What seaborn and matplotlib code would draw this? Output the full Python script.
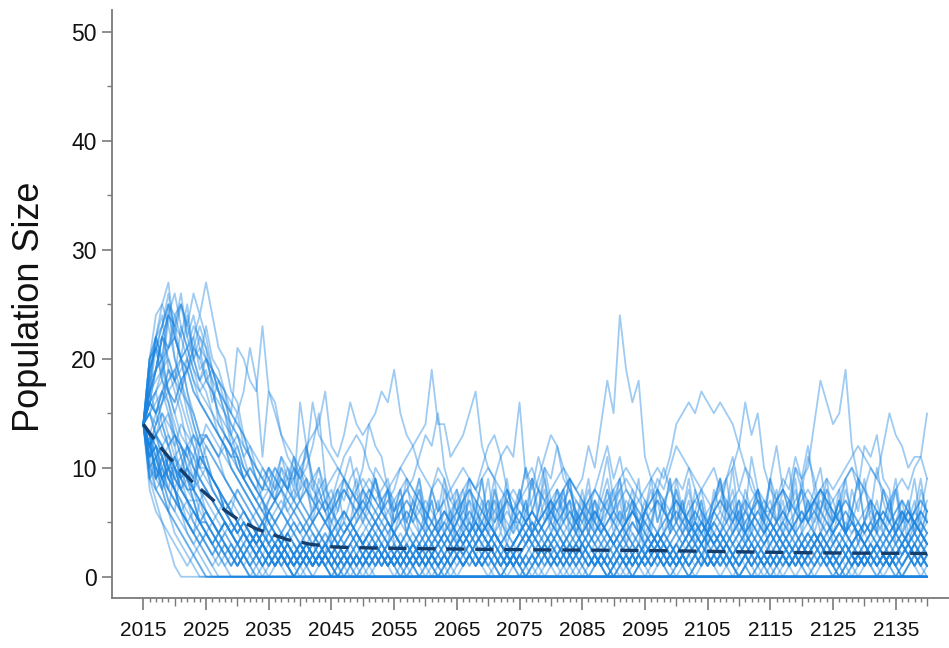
import numpy as np
import pandas as pd
import matplotlib
matplotlib.use("Agg")
import matplotlib.pyplot as plt
from matplotlib.ticker import FixedLocator
import seaborn as sns

# Simulation years
years = list(range(2015, 2141))

# Simulated population trajectories, one base-36 digit per year
# (0-9, a=10 ... r=27), grouped in decades 2015-2024, 2025-2034, ...
runs = [
    # runs that go extinct
    "e975310000 0000000000 0000000000 0000000000 "
    "0000000000 0000000000 0000000000 0000000000 "
    "0000000000 0000000000 0000000000 0000000000 000000",
    "ec98654321 0000000000 0000000000 0000000000 "
    "0000000000 0000000000 0000000000 0000000000 "
    "0000000000 0000000000 0000000000 0000000000 000000",
    "efdb986543 2121000000 0000000000 0000000000 "
    "0000000000 0000000000 0000000000 0000000000 "
    "0000000000 0000000000 0000000000 0000000000 000000",
    "eab9a8a975 5432321000 0000000000 0000000000 "
    "0000000000 0000000000 0000000000 0000000000 "
    "0000000000 0000000000 0000000000 0000000000 000000",
    "edcba87654 3232121000 0000000000 0000000000 "
    "0000000000 0000000000 0000000000 0000000000 "
    "0000000000 0000000000 0000000000 0000000000 000000",
    "e9b8a98977 6545434321 2121000000 0000000000 "
    "0000000000 0000000000 0000000000 0000000000 "
    "0000000000 0000000000 0000000000 0000000000 000000",
    "eca9876543 4323212100 0000000000 0000000000 "
    "0000000000 0000000000 0000000000 0000000000 "
    "0000000000 0000000000 0000000000 0000000000 000000",
    "egheca9775 4343232121 2321210000 0000000000 "
    "0000000000 0000000000 0000000000 0000000000 "
    "0000000000 0000000000 0000000000 0000000000 000000",
    "ebca986547 5432121232 1210000000 0000000000 "
    "0000000000 0000000000 0000000000 0000000000 "
    "0000000000 0000000000 0000000000 0000000000 000000",
    "ekmojhfca8 6545434323 2321232121 0000000000 "
    "0000000000 0000000000 0000000000 0000000000 "
    "0000000000 0000000000 0000000000 0000000000 000000",
    "e865432121 0000000000 0000000000 0000000000 "
    "0000000000 0000000000 0000000000 0000000000 "
    "0000000000 0000000000 0000000000 0000000000 000000",
    "edfhgdb986 5434323212 1232121232 1212121000 "
    "0000000000 0000000000 0000000000 0000000000 "
    "0000000000 0000000000 0000000000 0000000000 000000",
    "ejlnqmkhfd b986545434 3232121000 0000000000 "
    "0000000000 0000000000 0000000000 0000000000 "
    "0000000000 0000000000 0000000000 0000000000 000000",
    "ecdefc9875 6545434543 2343232121 2321212323 "
    "2121000000 0000000000 0000000000 0000000000 "
    "0000000000 0000000000 0000000000 0000000000 000000",
    "efghfdcba9 8765454323 2121232121 0000000000 "
    "0000000000 0000000000 0000000000 0000000000 "
    "0000000000 0000000000 0000000000 0000000000 000000",
    "ehjklmkjhg fedcba9876 5434323212 1232121212 "
    "1210000000 0000000000 0000000000 0000000000 "
    "0000000000 0000000000 0000000000 0000000000 000000",
    "ed9a876543 2100000000 0000000000 0000000000 "
    "0000000000 0000000000 0000000000 0000000000 "
    "0000000000 0000000000 0000000000 0000000000 000000",
    "ejmpnkifdb a987654323 2121000000 0000000000 "
    "0000000000 0000000000 0000000000 0000000000 "
    "0000000000 0000000000 0000000000 0000000000 000000",
    "ebc9a86432 1000000000 0000000000 0000000000 "
    "0000000000 0000000000 0000000000 0000000000 "
    "0000000000 0000000000 0000000000 0000000000 000000",
    "ecdcbabca9 8765432343 2323212321 2123212321 "
    "0121232121 2321210000 0000000000 0000000000 "
    "0000000000 0000000000 0000000000 0000000000 000000",
    "eabcdbcaba a986765434 3432121232 1000000000 "
    "0000000000 0000000000 0000000000 0000000000 "
    "0000000000 0000000000 0000000000 0000000000 000000",
    "eca8643210 0000000000 0000000000 0000000000 "
    "0000000000 0000000000 0000000000 0000000000 "
    "0000000000 0000000000 0000000000 0000000000 000000",
    # runs persisting at low numbers
    "edb9765434 3232123432 1232121234 3212323432 "
    "1212343212 3234321212 3432123454 3212123432 "
    "1232123432 1212343234 5432121232 3432123212 323432",
    "efhigeca87 6545432343 2121232123 4345432123 "
    "2101232121 2343454321 2123212343 2121012123 "
    "2343212321 2123454323 2121232343 2101212321 234321",
    "eca9ba9887 8765454343 4565432123 2123434543 "
    "4323212343 4565434323 4679bdca86 4345434323 "
    "2121234565 4343212123 4343212345 4323432123 432123",
    "ea87654323 4321212321 0121232123 2121012121 "
    "2321012321 2123212101 2123232121 0121232101 "
    "2123212123 2101212321 2123210121 2321232121 012321",
    "ebcab98a9b a987656545 79ba8gc986 4565678765 "
    "4323212343 2123454321 2343232123 4565434321 "
    "2121232343 4543234565 6543432123 2343212343 456543",
    "edbcabacdc dcbdca9876 5434323212 3212101232 "
    "1212321212 3454321232 1010121232 3212123212 "
    "1232123454 3212101212 3232123432 1232121012 123212",
    "ecb9876545 4343212321 2343212121 0121232343 "
    "4323212123 2121232123 4343212101 2123432121 "
    "2321012123 2343212321 2101232343 2121012121 232121",
    "egfdcdb987 6567654343 2123454323 2123212343 "
    "2101234345 4321232121 2343454323 2121232121 "
    "0121234343 2123212321 2343212123 4543212321 232343",
    "ehmnpkigec a986545434 6798b9acf9 3454321212 "
    "3432123432 1212321232 3454565434 3212123212 "
    "3432123454 3434323212 1232343432 1232123454 543232",
    "edcb986754 3212321010 1212321012 1010121232 "
    "1012121010 1232101012 1012321010 1212101232 "
    "1012101012 1232101010 1212321012 1010121232 101210",
    "e9a8b9a889 8765456545 6787654565 4345434323 "
    "6789bdcfa8 6545434323 4565654345 6545434565 "
    "4343456543 4565434323 4565456787 6545434565 434565",
    "ebdcaa8765 4543232123 2121012123 2321212321 "
    "2123210121 2343212321 0121232123 2123212101 "
    "2321232123 4321232121 0121232321 2123212321 212321",
    "ekliomkhec dcbca98765 4323212123 4345434321 "
    "2121234323 4345432123 4343212343 2121012123 "
    "2343454321 2123212343 4565434321 2123432123 234343",
    "eddca98765 5434323212 3432123212 1012123212 "
    "1232121012 3232123432 1212321232 1012321212 "
    "3434321232 1232101232 1212343212 3232121012 123432",
    "ecdbca9a8b a876545434 5676545434 3234565434 "
    "5654323454 3434565676 5434343212 3454565434 "
    "5432343454 5676545434 5434565434 579a8cbd98 343454",
    "e9876a8765 4343212121 2321012121 0101212321 "
    "2121012101 2121232121 0121210121 2321210101 "
    "2121232123 2121012121 2321210121 0121212101 212121",
    "efdecdcbdc edcba98765 3212123432 1232345432 "
    "1232121012 3234543212 1212321232 3432121012 "
    "3234321232 1212101232 3432123212 3432121232 123212",
    "ebc9ab9cbd dcb9876545 4323212343 4565434321 "
    "2123432123 2121234343 2321232345 4321212321 "
    "2343212101 4679b8a975 2121012321 2343454321 232123",
    "ecdfedcb98 7654543432 1232123212 1012121232 "
    "3212101232 3432121012 1232123212 3212101212 "
    "3232121232 3432121012 1232123432 1212321212 101232",
    "eijmoqnljh gfedcba987 5434323212 3454323212 "
    "1232343454 3212123212 1012321232 3212343212 "
    "1232121012 3212343432 1212321232 1012123212 343212",
    "egfhjigeca 9876787654 6545434565 4323456543 "
    "2343454343 5798acdb86 4565434321 2343456543 "
    "4323212343 4543234565 4321234323 4565434321 234543",
    "ea9b987565 4323212101 2321012121 2321210121 "
    "2321232121 0121232321 2101212321 2321012123 "
    "2121012121 2321212101 2123212121 0121232123 212101",
    "ed9a8b9a9c a987687654 3434543212 3434323454 "
    "3212343234 5432123212 3454343212 1232343454 "
    "3434323212 1232123454 5798b9c8a6 3434543234 543234",
    "efeghfdcb9 a876545434 3212101232 1212343212 "
    "1012123212 3432121012 1232343212 1012101232 "
    "1212321012 1232123432 1012121232 1012123212 101212",
    "eklnpomkig fedcbca987 5434545432 579b8aecb8 "
    "3234321232 3454543212 3432345654 3434323454 "
    "3212343454 5434323212 3454323432 1232345434 323454",
    "ed9b9a8765 6545434323 2123212343 2101232121 "
    "2343212321 2123454321 2121012123 468ac9b875 "
    "2123212343 4321232121 2321232343 2101212321 232343",
    "eb8976a98b b987654343 4565434343 2123434565 "
    "4343212343 4565434321 2343454565 4343212343 "
    "6798acba86 2123456543 4343212343 4565432343 456543",
    "ecefdcedca cba9876545 4343232123 2321012123 "
    "4323212101 2123432123 4568a9c986 2321012121 "
    "2343212321 2123232121 0121234343 2321232121 012321",
    # runs with larger fluctuations
    "ehjmlopnqo rolkhgdb97 8765676545 6787654567 "
    "8a98765434 5676545678 7654567898 9caeifojgi "
    "b98a876545 4345676545 4323456787 6545434565 434565",
    "ejlmonpmki hfdca98767 6545676545 4565434567 "
    "6787654565 4343456787 6545676545 6787654567 "
    "89a9befgfh gfgfeca876 5456787654 5676545434 565676",
    "eimkhgijkl ihfedb9876 7898765676 5434567654 "
    "5676545678 9a98767654 5434565676 5434565434 "
    "5676545678 7654567656 6787a9aeig efjc98a987 898ab9",
    "eimkpnqmol kjhfdca987 6567878765 6545676545 "
    "4565434565 6787654345 6545676787 6545434565 "
    "6787654565 4345654567 6787656789 89abcba9cf dcabbf",
    "ehijlmkjhg fedcbb9a98 a98a9bcdeh cbdgedefhg "
    "jfdca98987 6545676545 4565434565 6787654565 "
    "4345676545 6787654343 4565678765 4543456545 676545",
    "ejlihfhjln lhfdca9878 9a98765676 7898765678 "
    "9abcdejeeb cdfhca9876 7898789a98 7654567876 "
    "5434565676 5434345654 3454565434 5676545654 345654",
    "egfhijklnm kiedcb9a98 87899abgdc ba98789876 "
    "7898765456 78989a9bcb g9a8767898 7654345676 "
    "5434565434 3454565676 5434345654 3454567654 565434",
    "eghjkijkih ijhgflkihn hgdba98767 6545676545 "
    "4323454565 4345434565 6545434323 4565678987 "
    "6545676545 4343456787 6545434565 4323454343 456543",
    "egjkhiklji kjihgfhlib hfdcba9878 9a98767656 "
    "5676545434 5654343212 3454565434 5676789a98 "
    "7676545434 5676787654 5434565676 789a987654 565676",
    "ecegijhgfd cba9876565 6787654565 6787898765 "
    "4565676545 6787654343 4565678765 4565434565 "
    "6787898a98 9a89acgdfa 8767656787 6545434565 676565",
    "ehfgjihkmo mjhfcdb98a 9768a79586 7465857968 "
    "5746958674 6857469586 7a68574695 8574685769 "
    "4586957486 5796a58674 6857496857 4695786a75 846957",
    "ehlkonmpki jgihdfcba9 a8b97a8967 6857687a98 "
    "7546857486 5746958574 8695746857 6475869574 "
    "6857496857 4695746b86 7586947586 5748695746 857469",
    "egjmlnkokm ljigfedcba 98a9b8c9a8 79bcdca975 "
    "4695748695 7486957486 5746958674 6958b79685 "
    "7486957468 5796857486 9574685769 5846957486 574695",
    "ekmjhgijlk nkjhfedb98 a986789789 6879a87968 "
    "5746857465 8574695746 8596a75846 5746857465 "
    "3546574635 4657463546 5746857468 5746354657 463546",
    "ekoprmpnlk ihgfedbca9 87a8978697 5687968789 "
    "6857465746 3546574635 5746857695 7465746354 "
    "6574685746 3546574685 9c8a685746 5746354657 465746",
    "ehjmkinlmj kihgedcba9 8a98a9c8a7 8697586978 "
    "6857968a97 8695748695 7a8b968574 6857968574 "
    "6957486957 4869574685 9786a8b968 7586957486 957486",
]

# Mean population size across runs
mean_size = [
    14.0, 13.2, 12.4, 11.7, 11.0, 10.4, 9.8, 9.2, 8.6, 8.1,
    7.6, 7.1, 6.6, 6.1, 5.7, 5.3, 5.0, 4.7, 4.4, 4.2,
    4.0, 3.8, 3.6, 3.4, 3.3, 3.2, 3.05, 2.95, 2.9, 2.8,
    2.75, 2.72, 2.70, 2.68, 2.67, 2.66, 2.64, 2.63, 2.62, 2.62,
    2.61, 2.60, 2.60, 2.59, 2.58, 2.57, 2.57, 2.56, 2.55, 2.55,
    2.54, 2.54, 2.53, 2.52, 2.52, 2.51, 2.51, 2.50, 2.50, 2.49,
    2.49, 2.48, 2.48, 2.47, 2.47, 2.46, 2.46, 2.46, 2.45, 2.45,
    2.45, 2.44, 2.44, 2.44, 2.43, 2.43, 2.43, 2.42, 2.42, 2.41,
    2.41, 2.40, 2.40, 2.39, 2.38, 2.37, 2.37, 2.36, 2.35, 2.35,
    2.34, 2.33, 2.32, 2.31, 2.30, 2.29, 2.28, 2.27, 2.26, 2.25,
    2.25, 2.24, 2.23, 2.22, 2.22, 2.21, 2.20, 2.20, 2.19, 2.19,
    2.18, 2.18, 2.17, 2.17, 2.16, 2.16, 2.16, 2.15, 2.15, 2.15,
    2.15, 2.14, 2.14, 2.14, 2.13, 2.13,
]

x_ticks = list(range(2015, 2136, 10))
y_ticks = [0, 10, 20, 30, 40, 50]


def decode(run):
    return [int(c, 36) for c in run.replace(" ", "")]


records = []
for i, run in enumerate(runs):
    vals = decode(run)
    assert len(vals) == len(years), (i, len(vals))
    records += [(i, y, v) for y, v in zip(years, vals)]
runs_df = pd.DataFrame(records, columns=["run", "year", "size"])
mean_df = pd.DataFrame({"year": years, "size": mean_size})

sns.set_theme(style="ticks")
plt.rcParams["font.family"] = ["Liberation Sans", "DejaVu Sans"]

W, H = 949, 648
fig = plt.figure(figsize=(W / 100, H / 100), dpi=100)
ax = fig.add_axes([112 / W, 50 / H, (W - 112) / W, 588 / H])

sns.lineplot(data=runs_df, x="year", y="size", units="run", estimator=None,
             color="#1a84e0", alpha=0.42, lw=1.3, ax=ax, legend=False)
sns.lineplot(data=mean_df, x="year", y="size", color="#163e6c", lw=2.4,
             ax=ax, legend=False)
ax.lines[-1].set_dashes((5.5, 3.2))
ax.lines[-1].set_zorder(5)

ax.set_xlim(2010, 2143.5)
ax.set_ylim(-1.95, 52)
ax.set_xlabel("")
ax.set_ylabel("Population Size", fontsize=26, color="#111111")
ax.yaxis.set_label_coords(-0.078, 0.495)

spine_col = "#7a7a7a"
for side in ("top", "right"):
    ax.spines[side].set_visible(False)
for side in ("left", "bottom"):
    ax.spines[side].set_color(spine_col)
    ax.spines[side].set_linewidth(1.3)

ax.xaxis.set_major_locator(FixedLocator(x_ticks))
minor_years = [y for y in range(2016, 2141) if y not in x_ticks]
ax.xaxis.set_minor_locator(FixedLocator(minor_years))
ax.yaxis.set_major_locator(FixedLocator(y_ticks))
ax.yaxis.set_minor_locator(FixedLocator([5, 15, 25, 35, 45]))

ax.tick_params(axis="x", which="major", length=8.6, width=1.2, color=spine_col,
               labelsize=15, pad=8, labelcolor="#111111")
ax.tick_params(axis="x", which="minor", length=3.0, width=1.0, color=spine_col)
ax.tick_params(axis="y", which="major", length=7.2, width=1.2, color=spine_col,
               labelsize=16.5, pad=4, labelcolor="#111111")
ax.tick_params(axis="y", which="minor", length=3.6, width=1.0, color=spine_col)

# half-decade ticks slightly longer than yearly ones
for tick, yr in zip(ax.xaxis.get_minor_ticks(len(minor_years)), minor_years):
    if yr % 5 == 0:
        tick.tick1line.set_markersize(5.8)

fig.savefig("out.png", dpi=100)
